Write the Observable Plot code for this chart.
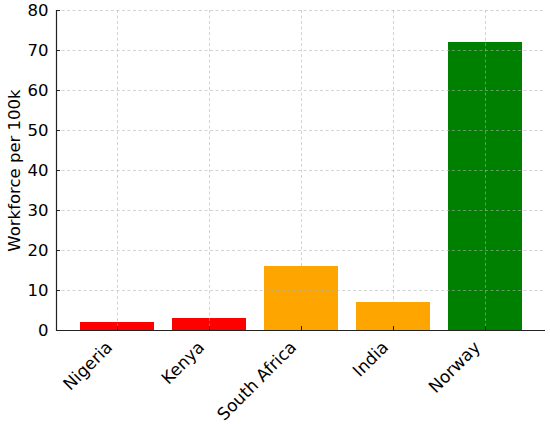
<!DOCTYPE html>
<html>
<head>
<meta charset="utf-8">
<script src="https://cdn.jsdelivr.net/npm/d3@7"></script>
<script src="https://cdn.jsdelivr.net/npm/@observablehq/plot@0.6"></script>
<style>
  html, body { margin: 0; padding: 0; background: #fff; }
  #chart svg { display: block; }
</style>
</head>
<body>
<div id="chart"></div>
<script>
const countries = ["Nigeria", "Kenya", "South Africa", "India", "Norway"];
const workforce = [2, 3, 16, 7, 72];
const barColors = ["red", "red", "orange", "orange", "green"];
const yTicks = [0, 10, 20, 30, 40, 50, 60, 70, 80];
const yLabel = "Workforce per 100k";

const data = countries.map((c, i) => ({country: c, value: workforce[i], color: barColors[i]}));

const font = "DejaVu Sans, sans-serif";
const W = 550, H = 424, mL = 56, mR = 5, mT = 10, mB = 94;

const chart = Plot.plot({
  width: W,
  height: H,
  marginLeft: mL,
  marginRight: mR,
  marginTop: mT,
  marginBottom: mB,
  style: {fontFamily: font, fontSize: "16px", color: "#000", background: "#fff"},
  x: {type: "band", domain: countries, paddingInner: 0.2, paddingOuter: 0.24, align: 0.5},
  y: {domain: [0, 80]},
  color: {type: "identity"},
  marks: [
    Plot.barY(data, {x: "country", y: "value", fill: "color"}),
    Plot.gridY(yTicks, {stroke: "#b0b0b0", strokeOpacity: 0.7, strokeDasharray: "3,2.5", strokeWidth: 0.8}),
    Plot.gridX(countries, {stroke: "#b0b0b0", strokeOpacity: 0.7, strokeDasharray: "3,2.5", strokeWidth: 0.8}),
    Plot.axisY(yTicks, {tickSize: 0, tickPadding: 8, label: null, fontSize: 16.5}),
    Plot.tickY(yTicks, {y: d => d, insetRight: W - mL - mR - 4, stroke: "#222", strokeWidth: 1}),
    Plot.tickX(countries, {x: d => d, insetTop: H - mT - mB - 4, stroke: "#222", strokeWidth: 1}),
    Plot.axisX(countries, {tickSize: 0, tickRotate: -45, tickPadding: 6, dx: -8, dy: 8, label: null, fontSize: 17}),
    Plot.ruleY([0], {stroke: "#222", strokeWidth: 1.2}),
    Plot.frame({anchor: "left", stroke: "#222", strokeWidth: 1.2}),
    Plot.text([yLabel], {frameAnchor: "left", rotate: -90, textAnchor: "middle", dx: -42, fontSize: 16.5, fill: "#000"})
  ]
});
document.getElementById("chart").appendChild(chart);
</script>
</body>
</html>
